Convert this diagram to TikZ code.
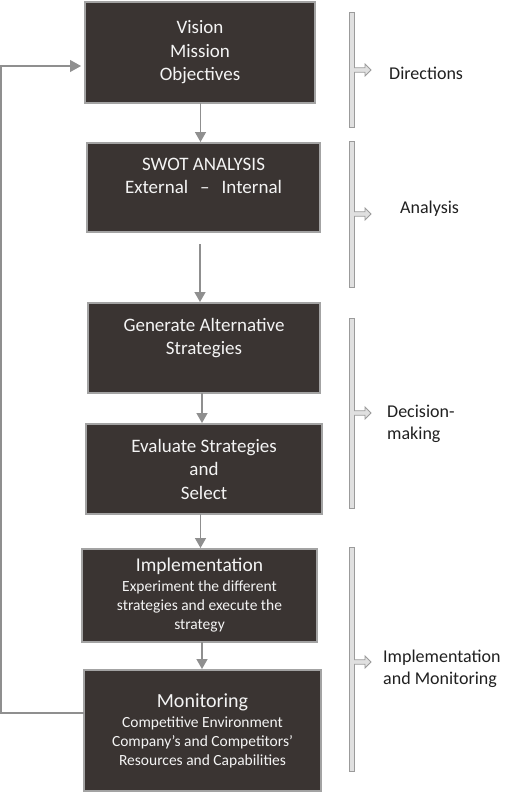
\documentclass[tikz,border=0pt]{standalone}
\usepackage{fontspec}
\setmainfont{Carlito}
\usetikzlibrary{arrows.meta,calc}
\definecolor{boxfill}{HTML}{3A3432}
\definecolor{boxline}{HTML}{A3A3A3}
\definecolor{conncol}{HTML}{8F8F8F}
\definecolor{brk}{HTML}{9B9B9B}
\definecolor{brkfill}{HTML}{E0E0E0}
\definecolor{boxtext}{HTML}{F4F4F4}
\definecolor{labtext}{HTML}{202020}
\tikzset{
  stagebox/.style={draw=boxline, line width=2pt, fill=boxfill, text=boxtext,
    inner sep=0pt, outer sep=0pt, align=center,
    font=\fontsize{19}{23.5}\selectfont},
  smallbox/.style={stagebox, font=\fontsize{15.5}{19}\selectfont},
  conn/.style={draw=conncol, line width=1.4pt,
    -{Triangle[length=10pt,width=11pt]}, shorten >=1pt},
  feedback/.style={draw=conncol, line width=1.1pt,
    -{Triangle[length=11pt,width=12pt]}, shorten >=4pt},
  bracketbar/.style={draw=brk, line width=0.9pt, fill=brkfill,
    minimum width=5pt, inner sep=0pt, outer sep=0pt},
  sidelabel/.style={anchor=west, align=left, text=labtext,
    font=\fontsize{18}{22}\selectfont, inner sep=0pt},
  brarrow/.pic={\draw[draw=brk, line width=0.8pt, fill=brkfill, line join=miter]
     (0,-2.2) -- (11,-2.2) -- (11,-6) -- (17,0) -- (11,6) -- (11,2.2) -- (0,2.2);}
}
\begin{document}
\begin{tikzpicture}[x=1pt,y=-1pt]
\fill[white] (0,0) rectangle (520,793);
\useasboundingbox (0,0) rectangle (520,793);

% main boxes
\node[stagebox, minimum width=230, minimum height=101] (box1) at (200,52.5)
  {Vision\\Mission\\Objectives};
\node[stagebox, minimum width=233, minimum height=89] (box2) at (203.5,187.5)
  {SWOT ANALYSIS\\External\hspace{12pt}–\hspace{12pt}Internal\\ };
\node[stagebox, minimum width=232, minimum height=90] (box3) at (204,348)
  {Generate Alternative\\Strategies\\ };
\node[stagebox, minimum width=236, minimum height=90] (box4) at (204,469)
  {Evaluate Strategies\\and\\Select};
\node[smallbox, minimum width=235, minimum height=93] (box5) at (199.5,595.5)
  {{\fontsize{19.5}{23}\selectfont Implementation}\\[1pt]Experiment the different\\strategies and execute the\\strategy};
\node[smallbox, minimum width=237, minimum height=121] (box6) at (202.5,730.5)
  {{\fontsize{20}{23}\selectfont Monitoring}\\[1pt]Competitive Environment\\Company’s and Competitors’\\Resources and Capabilities};

% connectors
\coordinate (c200) at (200.5,0);
\coordinate (c202) at (202,0);
\coordinate (s23) at (200,244);
\draw[conn] (c200 |- box1.south) -- (c200 |- box2.north);
\draw[conn] (s23) -- (s23 |- box3.north);
\draw[conn] (c202 |- box3.south) -- (c202 |- box4.north);
\draw[conn] (c200 |- box4.south) -- (c200 |- box5.north);
\draw[conn] (c202 |- box5.south) -- (c202 |- box6.north);

% feedback loop
\coordinate (fb1) at (1,713);
\coordinate (fb2) at (1,66);
\draw[feedback] (fb1 -| box6.west) -- (fb1) -- (fb2) -- (fb2 -| box1.west);

% side brackets
\node[bracketbar, minimum height=115] (br1) at (351.5,69.5) {};
\node[bracketbar, minimum height=146] (br2) at (351.5,214) {};
\node[bracketbar, minimum height=190] (br3) at (351.5,413) {};
\node[bracketbar, minimum height=224] (br4) at (351.5,659) {};
\pic at (354,70) {brarrow};
\pic at (354,214) {brarrow};
\pic at (354,413) {brarrow};
\pic at (354,662) {brarrow};

% side labels
\node[sidelabel] (lab1) at (389,73) {Directions};
\node[sidelabel] (lab2) at (400,209) {Analysis};
\node[sidelabel] (lab3) at (387,424) {Decision-\\making};
\node[sidelabel] (lab4) at (383,668.5) {Implementation\\and Monitoring};
\end{tikzpicture}
\end{document}
